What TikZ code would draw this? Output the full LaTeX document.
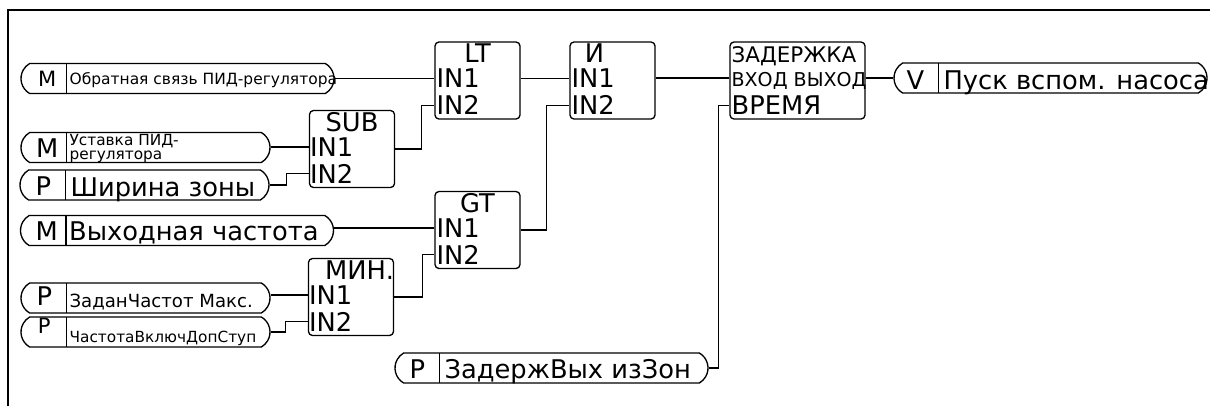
\documentclass[tikz,border=0pt]{standalone}
\usepackage{fontspec}
\setmainfont{DejaVu Sans}
\usetikzlibrary{shapes.misc,calc}
\newcommand\FBig{\fontsize{19.3}{19.3}\selectfont}
\newcommand\FLet{\fontsize{15.8}{15.8}\selectfont}
\newcommand\FSa{\fontsize{11.6}{11.6}\selectfont}
\newcommand\FSb{\fontsize{11.5}{10.4}\selectfont}
\newcommand\FSc{\fontsize{13.6}{13.6}\selectfont}
\newcommand\FSd{\fontsize{11.5}{11.5}\selectfont}
\newcommand\FDa{\fontsize{16.1}{16.1}\selectfont}
\newcommand\FDb{\fontsize{14.3}{14.3}\selectfont}
\tikzset{
  wire/.style={line width=1pt},
  pill/.style={draw, line width=1pt, rounded rectangle, rounded rectangle arc length=120,
    minimum height=22.5pt, inner sep=0pt},
  pillw/.style={pill, minimum width=234.75pt},
  pilln/.style={pill, minimum width=186.75pt},
  blk/.style={draw, line width=1pt, rounded corners=3pt, minimum width=63.75pt,
    minimum height=57.75pt, inner sep=0pt},
  txt/.style={inner sep=0pt, font=\FBig},
  ttl/.style={txt, anchor=base},
  port/.style={txt, anchor=base west},
  let/.style={txt, anchor=base}
}
\begin{document}
\begin{tikzpicture}[x=0.75pt,y=-0.75pt]
\useasboundingbox (0,0) rectangle (1210,405);
% frame
\draw[wire] (1212,10) -- (8,10) -- (8,407);

% ---------- input / output pills ----------
\node[pillw] (p1) at (177.5,78.5) {};
\draw[wire] ($(p1.west)+(46,-15)$) -- ++(0,30);
\node[let, font=\FLet] (p1-l) at ($(p1.west)+(27,7.5)$) {M};
\node[port, font=\FSa] (p1-t) at ($(p1.west)+(49,6)$) {Обратная связь ПИД-регулятора};

\node[pilln] (p2) at (145.5,147.5) {};
\draw[wire] ($(p2.west)+(46,-15)$) -- ++(0,30);
\node[let] (p2-l) at ($(p2.west)+(27,10)$) {M};
\node[txt, font=\FSb, align=left, anchor=north west] (p2-t) at ($(p2.west)+(49,-13)$) {Уставка ПИД-\\регулятора};

\node[pilln] (p3) at (144.5,185) {};
\draw[wire] ($(p3.west)+(46,-15)$) -- ++(0,30);
\node[let] (p3-l) at ($(p3.west)+(24,10)$) {P};
\node[port] (p3-t) at ($(p3.west)+(51,11)$) {Ширина зоны};

\node[pillw] (p4) at (177,230.5) {};
\draw[wire] ($(p4.west)+(46,-15)$) -- ++(0,30);
\node[let] (p4-l) at ($(p4.west)+(27,9.5)$) {M};
\node[port] (p4-t) at ($(p4.west)+(49,9.5)$) {Выходная частота};

\node[pilln] (p5) at (145.5,298) {};
\draw[wire] ($(p5.west)+(46,-15)$) -- ++(0,30);
\node[let] (p5-l) at ($(p5.west)+(24,7)$) {P};
\node[port, font=\FSc] (p5-t) at ($(p5.west)+(49,9)$) {ЗаданЧастот Макс.};

\node[pilln] (p6) at (145.5,332) {};
\draw[wire] ($(p6.west)+(46,-15)$) -- ++(0,30);
\node[let, font=\FLet] (p6-l) at ($(p6.west)+(24,1.5)$) {P};
\node[port, font=\FSd] (p6-t) at ($(p6.west)+(49,10)$) {ЧастотаВключДопСтуп};

\node[pillw] (p7) at (551.5,368) {};
\draw[wire] ($(p7.west)+(45,-15)$) -- ++(0,30);
\node[let] (p7-l) at ($(p7.west)+(23,10)$) {P};
\node[port] (p7-t) at ($(p7.west)+(50,10)$) {ЗадержВых изЗон};

\node[pillw] (p8) at (1050.5,78) {};
\draw[wire] ($(p8.west)+(45,-15)$) -- ++(0,30);
\node[let] (p8-l) at ($(p8.west)+(22,11)$) {V};
\node[port] (p8-t) at ($(p8.west)+(50,11)$) {Пуск вспом. насоса};

% ---------- function blocks ----------
\node[blk] (lt) at (477.5,80.5) {};
\node[ttl] (lt-t) at ($(lt.north)+(0,21.5)$) {LT};
\node[port] (lt-in1) at ($(lt.north west)+(2,46.5)$) {IN1};
\node[port] (lt-in2) at ($(lt.north west)+(2,73.5)$) {IN2};

\node[blk] (and) at (612.5,80.5) {};
\node[ttl] (and-t) at ($(and.north)+(-18,21.5)$) {И};
\node[port] (and-in1) at ($(and.north west)+(2,46.5)$) {IN1};
\node[port] (and-in2) at ($(and.north west)+(2,73.5)$) {IN2};

\node[blk, minimum width=101.25pt] (dly) at (797.5,80.5) {};
\node[port, font=\FDa] (dly-t1) at ($(dly.north west)+(2,21.5)$) {ЗАДЕРЖКА};
\node[port, font=\FDb] (dly-t2) at ($(dly.north west)+(2,45.5)$) {ВХОД ВЫХОД};
\node[port] (dly-t3) at ($(dly.north west)+(2,73.5)$) {ВРЕМЯ};

\node[blk] (sub) at (352,149) {};
\node[ttl] (sub-t) at ($(sub.north)+(0,21.5)$) {SUB};
\node[port] (sub-in1) at ($(sub.north west)+(1,46.5)$) {IN1};
\node[port] (sub-in2) at ($(sub.north west)+(1,73.5)$) {IN2};

\node[blk] (gt) at (477.5,230) {};
\node[ttl] (gt-t) at ($(gt.north)+(0,21.5)$) {GT};
\node[port] (gt-in1) at ($(gt.north west)+(2,46.5)$) {IN1};
\node[port] (gt-in2) at ($(gt.north west)+(2,73.5)$) {IN2};

\node[blk] (min) at (351,297) {};
\node[port] (min-t) at ($(min.north west)+(17,21.5)$) {МИН.};
\node[port] (min-in1) at ($(min.north west)+(1,46.5)$) {IN1};
\node[port] (min-in2) at ($(min.north west)+(1,73.5)$) {IN2};

% ---------- wires ----------
\draw[wire] (p1.east |- lt-in1) -- (lt.west |- lt-in1);
\draw[wire] (p2.east |- sub-in1) -- (sub.west |- sub-in1);
\draw[wire] (p3.east) -- ++(17,0) |- (sub.west |- sub-in2);
\draw[wire] (p4.east |- gt-in1) -- (gt.west |- gt-in1);
\draw[wire] (p5.east |- min-in1) -- (min.west |- min-in1);
\draw[wire] (p6.east) -- ++(15,0) |- (min.west |- min-in2);
\draw[wire] (sub.east) -- ++(26,0) |- (lt.west |- lt-in2);
\draw[wire] (min.east) -- ++(28,0) |- (gt.west |- gt-in2);
\draw[wire] (lt.east |- and-in1) -- (and.west |- and-in1);
\draw[wire] (gt.east) -- ++(26,0) |- (and.west |- and-in2);
\draw[wire] (and.east |- p8.west) -- (dly.west |- p8.west);
\draw[wire] (p7.east) -- ++(10,0) |- (dly.west |- dly-t3);
\draw[wire] (dly.east |- p8.west) -- (p8.west);
\end{tikzpicture}
\end{document}
